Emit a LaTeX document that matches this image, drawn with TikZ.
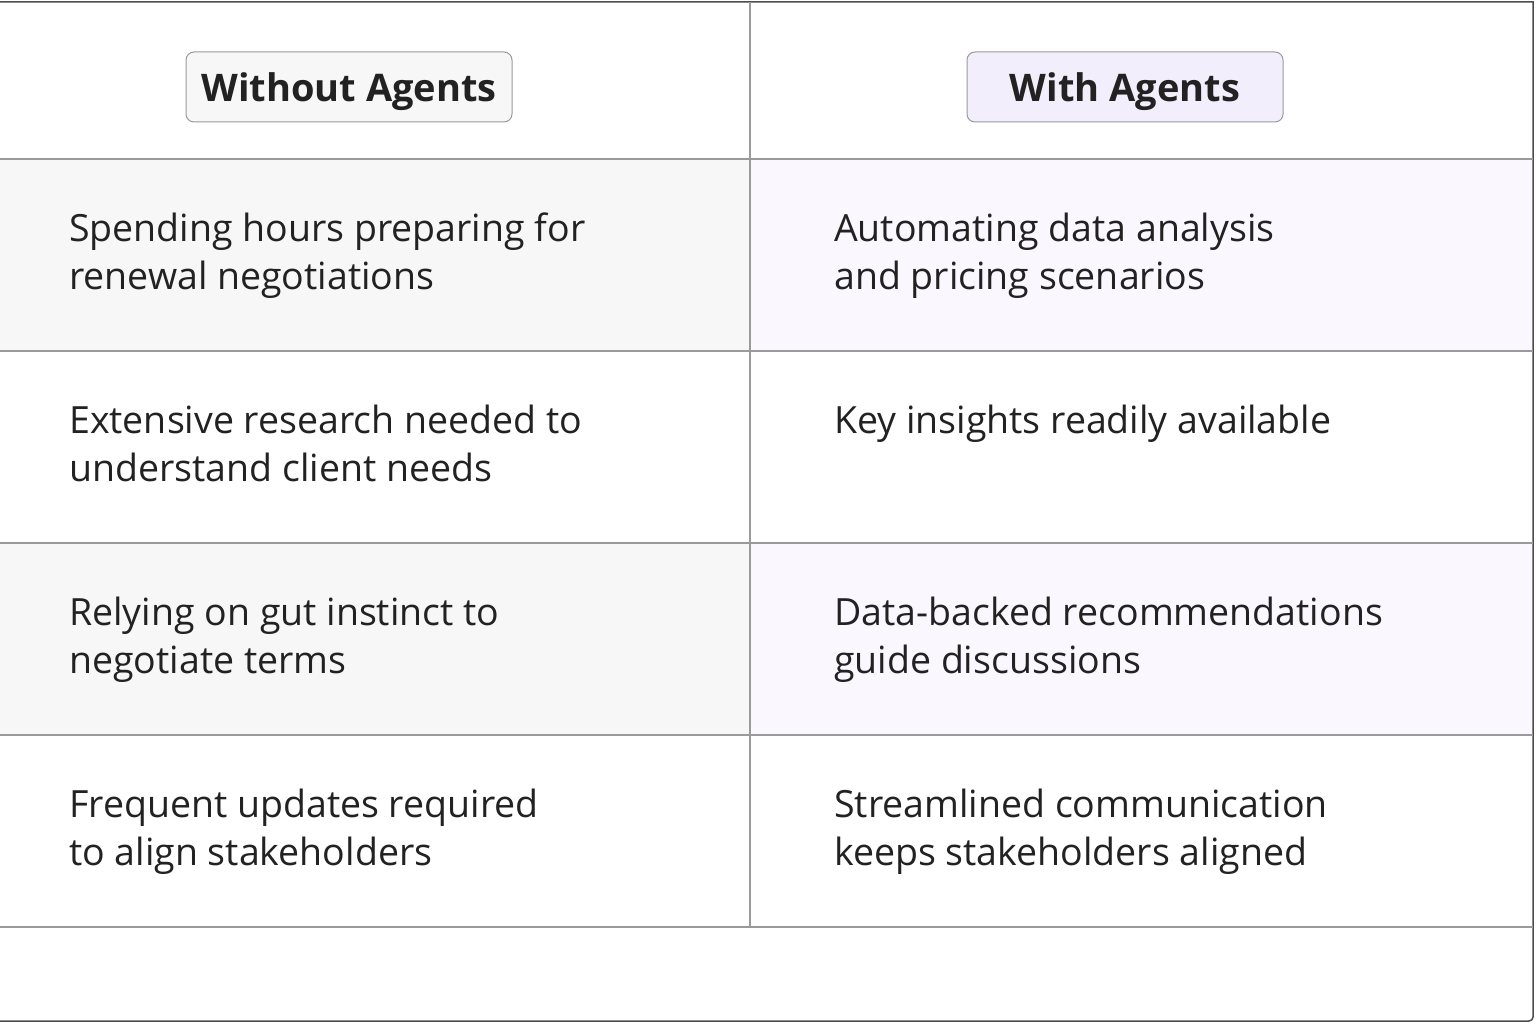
\documentclass[tikz,border=0pt]{standalone}
\usepackage{fontspec}
\setmainfont{Open Sans}
\definecolor{line}{HTML}{9A9A9A}
\definecolor{greyrow}{HTML}{F7F7F7}
\definecolor{purrow}{HTML}{FAF8FE}
\definecolor{purbadge}{HTML}{F3EEFC}
\definecolor{txt}{HTML}{222222}
\begin{document}
\begin{tikzpicture}[x=1pt,y=-1pt,
  cell/.style={anchor=north west,align=left,font=\fontsize{37.5}{48}\selectfont,text=txt,inner sep=0pt},
  badge/.style={draw=line,rounded corners=8pt,minimum height=70pt,text depth=0pt,font=\fontsize{38}{40}\selectfont\bfseries,text=txt,line width=1pt}]
\useasboundingbox (0,0) rectangle (1536,1024);
\fill[white] (0,0) rectangle (1536,1024);
\fill[greyrow] (0,159) rectangle (750,351);
\fill[purrow] (750,159) rectangle (1533,351);
\fill[greyrow] (0,543) rectangle (750,735);
\fill[purrow] (750,543) rectangle (1533,735);
\draw[line width=1.5pt,draw=black!70] (0,2) -- (1533,2) [rounded corners=4pt]-- (1533,1021) -- (0,1021);
\foreach \y in {159,351,543,735,927} \draw[line,line width=1.3pt] (0,\y) -- (1533,\y);
\draw[line,line width=1.3pt] (750,2) -- (750,927);
\node[badge,fill=greyrow,minimum width=326pt] (h1) at (349,87) {Without Agents};
\node[badge,fill=purbadge,minimum width=316pt] (h2) at (1125,87) {With Agents};
\node[cell] (a1) at (69,213) {Spending hours preparing for\\renewal negotiations};
\node[cell] (b1) at (834,213) {Automating data analysis\\and pricing scenarios};
\node[cell] (a2) at (69,405) {Extensive research needed to\\understand client needs};
\node[cell] (b2) at (834,405) {Key insights readily available};
\node[cell] (a3) at (69,597) {Relying on gut instinct to\\negotiate terms};
\node[cell] (b3) at (834,597) {Data-backed recommendations\\guide discussions};
\node[cell] (a4) at (69,789) {Frequent updates required\\to align stakeholders};
\node[cell] (b4) at (834,789) {Streamlined communication\\keeps stakeholders aligned};
\end{tikzpicture}
\end{document}
